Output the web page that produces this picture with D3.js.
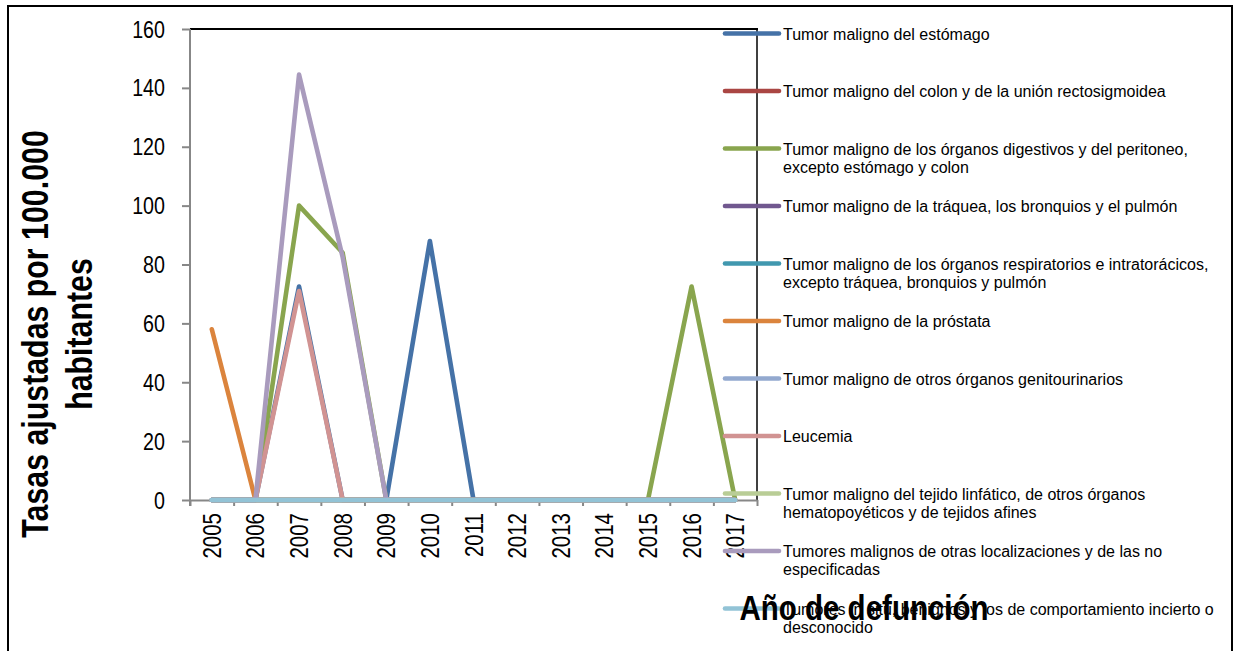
<!DOCTYPE html>
<html><head><meta charset="utf-8">
<script src="https://cdn.jsdelivr.net/npm/d3@7"></script>
<style>body{margin:0;background:#fff}svg{display:block}</style>
</head><body>
<svg id="chart" width="1233" height="651"></svg>
<script>
// ---------- DATA ----------
const years = ["2005","2006","2007","2008","2009","2010","2011","2012","2013","2014","2015","2016","2017"];
const seriesNames = [
  "Tumor maligno del estómago",
  "Tumor maligno del colon y de la unión rectosigmoidea",
  "Tumor maligno de los órganos digestivos y del peritoneo, excepto estómago y colon",
  "Tumor maligno de la tráquea, los bronquios y el pulmón",
  "Tumor maligno de los órganos respiratorios e intratorácicos, excepto tráquea, bronquios y pulmón",
  "Tumor maligno de la próstata",
  "Tumor maligno de otros órganos genitourinarios",
  "Leucemia",
  "Tumor maligno del tejido linfático, de otros órganos hematopoyéticos y de tejidos afines",
  "Tumores malignos de otras localizaciones y de las no especificadas",
  "Tumores in situ, benignos y los de comportamiento incierto o desconocido"
];
const stomach       = [0, 0, 72.5, 0, 0, 88, 0, 0, 0, 0, 0, 0, 0];
const colon         = [0, 0, 0, 0, 0, 0, 0, 0, 0, 0, 0, 0, 0];
const digestive     = [0, 0, 100, 84, 0, 0, 0, 0, 0, 0, 0, 72.5, 0];
const trachea       = [0, 0, 0, 0, 0, 0, 0, 0, 0, 0, 0, 0, 0];
const respiratory   = [0, 0, 0, 0, 0, 0, 0, 0, 0, 0, 0, 0, 0];
const prostate      = [58, 0, 0, 0, 0, 0, 0, 0, 0, 0, 0, 0, 0];
const genitourinary = [0, 0, 0, 0, 0, 0, 0, 0, 0, 0, 0, 0, 0];
const leukemia      = [0, 0, 71, 0, 0, 0, 0, 0, 0, 0, 0, 0, 0];
const lymphatic     = [0, 0, 0, 0, 0, 0, 0, 0, 0, 0, 0, 0, 0];
const otherSites    = [0, 0, 144.5, 82.5, 0, 0, 0, 0, 0, 0, 0, 0, 0];
const uncertain     = [0, 0, 0, 0, 0, 0, 0, 0, 0, 0, 0, 0, 0];
const yTicks = [0, 20, 40, 60, 80, 100, 120, 140, 160];
const yTitleLines = ["Tasas ajustadas por 100.000", "habitantes"];
const xTitle = "Año de defunción";

const seriesValues = [stomach, colon, digestive, trachea, respiratory, prostate,
  genitourinary, leukemia, lymphatic, otherSites, uncertain];
const colors = ["#4572A7","#AA4643","#89A54E","#71588F","#4198AF","#DB843D",
  "#93A9CF","#D19392","#B9CD96","#A99BBD","#92C3D6"];

// ---------- LAYOUT ----------
const svg = d3.select("#chart");
const plot = {left: 190, right: 757, top: 29, bottom: 500};
const axisColor = "#878787";

// narrow font detection
function hasNarrowFont() {
  const t = svg.append("text").attr("font-size", 100).text("abcdefghijklmn");
  t.attr("font-family", "'Liberation Sans Narrow'");
  const w1 = t.node().getComputedTextLength();
  t.attr("font-family", "'Liberation Sans'");
  const w2 = t.node().getComputedTextLength();
  t.remove();
  return w1 < w2 * 0.93;
}
const narrow = hasNarrowFont();
const narrowFamily = narrow ? "'Liberation Sans Narrow', 'Arial Narrow'" : "'Liberation Sans', Arial";
const squeeze = narrow ? "" : " scale(0.82,1)";

function narrowText(parent, str, x, y, size, weight, anchor, rot) {
  return parent.append("text")
    .attr("transform", `translate(${x},${y}) rotate(${rot})${squeeze}`)
    .attr("font-family", narrowFamily)
    .attr("font-size", size)
    .attr("font-weight", weight)
    .attr("text-anchor", anchor)
    .attr("fill", "#000")
    .text(str);
}

// outer border
svg.append("rect").attr("x", 8).attr("y", 6).attr("width", 1224).attr("height", 660)
  .attr("fill", "#fff").attr("stroke", "#000").attr("stroke-width", 2);

// scales
const x = d3.scalePoint().domain(years).range([plot.left, plot.right]).padding(0.5);
const xEdges = d3.scaleLinear().domain([0, years.length]).range([plot.left, plot.right]);
const y = d3.scaleLinear().domain([0, 160]).range([plot.bottom, plot.top]);

// plot frame (top and right black)
svg.append("line").attr("x1", plot.left).attr("x2", plot.right + 1)
  .attr("y1", plot.top).attr("y2", plot.top).attr("stroke", "#000").attr("stroke-width", 2);
svg.append("line").attr("x1", plot.right).attr("x2", plot.right)
  .attr("y1", plot.top).attr("y2", plot.bottom).attr("stroke", "#000").attr("stroke-width", 1.5);

// y axis
const yAxisG = svg.append("g").attr("transform", `translate(${plot.left},0)`)
  .call(d3.axisLeft(y).tickValues(yTicks).tickSize(8).tickSizeOuter(0).tickFormat(""));
yAxisG.selectAll("path,line").attr("stroke", axisColor).attr("stroke-width", 2);
yAxisG.select("path").attr("d", `M0,${plot.top}V${plot.bottom + 6}`);
yTicks.forEach(v => {
  narrowText(svg, String(v), 165, y(v) + 8.6, 24, "normal", "end", 0);
});

// x axis
const xAxisG = svg.append("g").attr("transform", `translate(0,${plot.bottom})`)
  .call(d3.axisBottom(xEdges).tickValues(d3.range(0, years.length + 1)).tickSize(6).tickSizeOuter(0).tickFormat(""));
xAxisG.selectAll("path,line").attr("stroke", axisColor).attr("stroke-width", 2);
years.forEach(yr => {
  narrowText(svg, yr, x(yr) + 9, plot.bottom + 13, 25, "normal", "end", -90);
});

// lines
const lineGen = d3.line().x((d, i) => x(years[i])).y(d => y(d));
seriesValues.forEach((vals, i) => {
  svg.append("path").datum(vals)
    .attr("d", lineGen)
    .attr("fill", "none")
    .attr("stroke", colors[i])
    .attr("stroke-width", 4.6)
    .attr("stroke-linejoin", "round")
    .attr("stroke-linecap", "round");
});

// legend
const legend = svg.append("g");
const maxW = 440;
seriesNames.forEach((name, i) => {
  const cy = 33.5 + i * 57.5;
  legend.append("line").attr("x1", 725).attr("x2", 779).attr("y1", cy).attr("y2", cy)
    .attr("stroke", colors[i]).attr("stroke-width", 4.6).attr("stroke-linecap", "round");
  const t = legend.append("text").attr("x", 783).attr("y", cy + 6)
    .attr("font-family", "'Liberation Sans', Arial").attr("font-size", 16).attr("fill", "#000");
  const words = name.split(" ");
  let line = [];
  let lineNo = 0;
  let tspan = t.append("tspan").attr("x", 783).attr("dy", 0);
  words.forEach(w => {
    line.push(w);
    tspan.text(line.join(" "));
    if (tspan.node().getComputedTextLength() > maxW && line.length > 1) {
      line.pop();
      tspan.text(line.join(" "));
      line = [w];
      lineNo++;
      tspan = t.append("tspan").attr("x", 783).attr("dy", 18.3).text(w);
    }
  });
});

// axis titles
const yTitleX = [48, 91.5];
yTitleLines.forEach((s, i) => {
  narrowText(svg, s, yTitleX[i], 334, 37, "bold", "middle", -90);
});
narrowText(svg, xTitle, 864, 620, 36, "bold", "middle", 0);
</script>
</body></html>
